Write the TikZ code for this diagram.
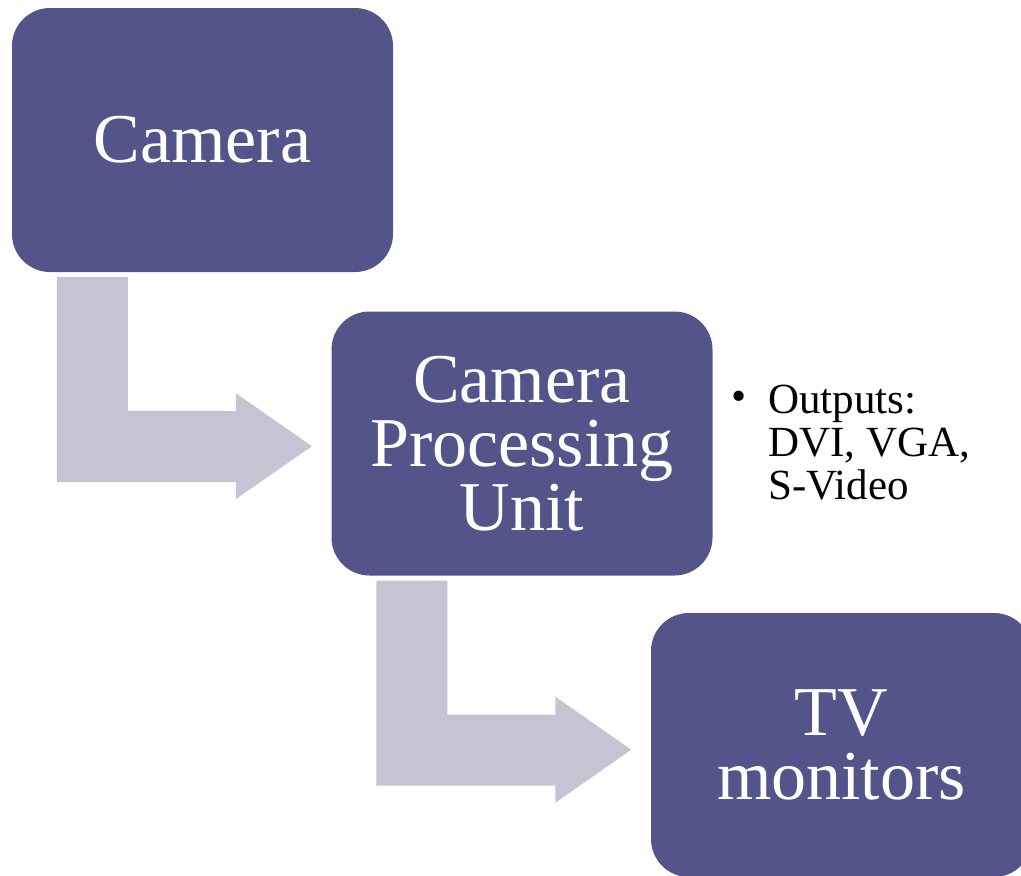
\documentclass[tikz,border=0pt]{standalone}
\usepackage{fontspec}
\setmainfont{Liberation Serif}
\usetikzlibrary{calc}

\definecolor{boxfill}{RGB}{84,84,138}
\definecolor{flowfill}{RGB}{196,196,210}

\tikzset{
  stagebox/.style={fill=boxfill, rounded corners=38pt, minimum width=381pt, minimum height=264pt,
    inner sep=0pt, text=white, align=center, font=\fontsize{70}{64}\selectfont},
  bentflow/.style={fill=flowfill, draw=none},
  notetext/.style={inner sep=0pt, align=left, font=\fontsize{43}{43}\selectfont},
}

\begin{document}
\begin{tikzpicture}[x=1pt,y=1pt,yscale=-1,xscale=1]
\useasboundingbox (0,0) rectangle (1021,876);

%Shape: Rounded Rect [cam]
\node[stagebox] (cam) at (202.5,140) {Camera};
%Shape: Rounded Rect [cpu]
\node[stagebox] (cpu) at (522,443.5) {Camera\\Processing\\Unit};
%Shape: Rounded Rect [tv]
\node[stagebox] (tv) at (841.5,745) {TV\\monitors};

%Shape: Bent Arrow [cam -> cpu]
\fill[bentflow] ($(cam.south west)+(45,5)$) -- ++(71,0) -- ++(0,134) -- ++(108,0) -- ++(0,-18) -- ++(76,53) -- ++(-76,53) -- ++(0,-17) -- ++(-179,0) -- cycle ;
%Shape: Bent Arrow [cpu -> tv]
\fill[bentflow] ($(cpu.south west)+(45,5)$) -- ++(71,0) -- ++(0,134) -- ++(108,0) -- ++(0,-18) -- ++(76,53) -- ++(-76,53) -- ++(0,-17) -- ++(-179,0) -- cycle ;

% Text Node
\node[notetext] (dot) at (739,401) {\textbullet};
% Text Node
\node[notetext, anchor=north west] (outputs) at (768,385) {Outputs:\\DVI, VGA,\\S-Video};

\end{tikzpicture}
\end{document}
